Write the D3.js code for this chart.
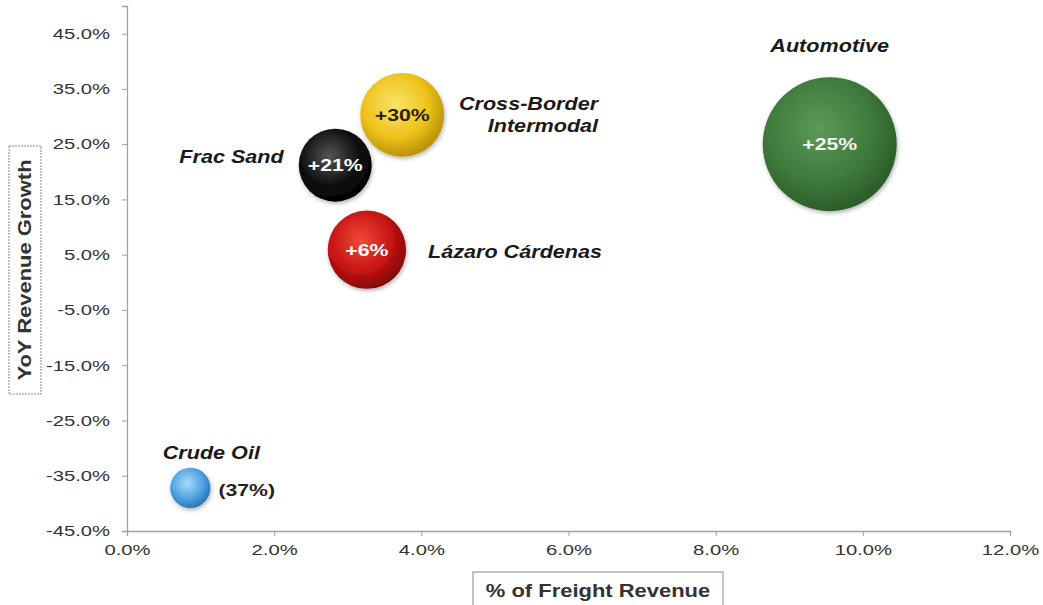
<!DOCTYPE html>
<html><head><meta charset="utf-8">
<script src="https://cdn.jsdelivr.net/npm/d3@7"></script>
<style>
html,body{margin:0;padding:0;background:#fff;}
svg{display:block;font-family:"Liberation Sans",Arial,sans-serif;}
</style></head>
<body>
<svg id="chart" width="1043" height="605"></svg>
<script>
const categories = ["Automotive","Cross-Border Intermodal","Frac Sand","Lázaro Cárdenas","Crude Oil"];
const shareOfFreight = [9.55, 3.74, 2.83, 3.26, 0.86];
const yoyGrowth = [25.0, 30.3, 21.2, 5.9, -37.2];
const bubbleLabels = ["+25%","+30%","+21%","+6%","(37%)"];
const xTicks = [0,2,4,6,8,10,12];
const yTicks = [-45,-35,-25,-15,-5,5,15,25,35,45];
const colors = [
  ["#5d9a58","#3f7a3c","#2a5a28"],
  ["#fbe46a","#edc21a","#b48d05"],
  ["#555555","#111111","#000000"],
  ["#ef4a3a","#c81414","#7a0505"],
  ["#a8daf8","#4fa3e2","#2a70b0"]
];
const textColors = ["#f4f4f4","#2a2200","#ffffff","#ffffff","#222"];

const svg = d3.select("#chart");
const x = d3.scaleLinear().domain([0,12]).range([127,1010]);
const y = d3.scaleLinear().domain([-45,50]).range([531,6]);
const r = d3.scaleSqrt().domain([0,9.55]).range([0,67]);

// stretched text helper
function stext(parent, px, py, str, o){
  const t = parent.append("text")
    .attr("transform", `translate(${px},${py})${o.rot?" rotate("+o.rot+")":""} scale(${o.sx||1.2},1)`)
    .attr("text-anchor", o.anchor||"start")
    .attr("font-size", o.size||18)
    .attr("font-weight", o.weight||"bold")
    .attr("font-style", o.style||"normal")
    .attr("fill", o.fill||"#1a1a1a");
  if (o.dy) t.attr("dy", o.dy);
  if (str !== null) t.text(str);
  return t;
}

// gradients
const defs = svg.append("defs");
colors.forEach((c,i)=>{
  const g = defs.append("radialGradient").attr("id","g"+i)
    .attr("cx","42%").attr("cy","38%").attr("r","65%");
  g.append("stop").attr("offset","0%").attr("stop-color",c[0]);
  g.append("stop").attr("offset","60%").attr("stop-color",c[1]);
  g.append("stop").attr("offset","100%").attr("stop-color",c[2]);
});
const sh = defs.append("filter").attr("id","shadow").attr("x","-30%").attr("y","-30%").attr("width","160%").attr("height","160%");
sh.append("feDropShadow").attr("dx",1).attr("dy",2).attr("stdDeviation",2).attr("flood-color","#000").attr("flood-opacity",0.3);

// axes
const TSX = 1.35;
const xAxis = d3.axisBottom(x).tickValues(xTicks).tickFormat(d=>d.toFixed(1)+"%").tickSize(5).tickPadding(6);
const yAxis = d3.axisLeft(y).tickValues(yTicks).tickFormat(d=>d.toFixed(1)+"%").tickSize(5).tickPadding(12);
const gx = svg.append("g").attr("transform","translate(0,531)").call(xAxis);
const gy = svg.append("g").attr("transform","translate(127,0)").call(yAxis);
[gx,gy].forEach(g=>{
  g.select(".domain").attr("stroke","#a0a0a0").attr("stroke-width",1.3);
  g.selectAll(".tick line").attr("stroke","#a0a0a0");
  g.selectAll(".tick text").attr("fill","#333").attr("font-size",15)
    .attr("font-family","Liberation Sans, Arial, sans-serif");
});
gy.selectAll(".tick text").each(function(){
  const t = d3.select(this);
  const px = +t.attr("x");
  t.attr("x", px/TSX).attr("transform", `scale(${TSX},1)`);
});
gx.selectAll(".tick text").attr("dy","0.9em").attr("transform", `scale(${TSX},1)`);

// axis titles
const yt = svg.append("g").attr("transform","translate(25,270)");
yt.append("rect").attr("x",-16).attr("y",-124).attr("width",32).attr("height",248)
  .attr("fill","#fff").attr("stroke","#8a8a8a").attr("stroke-dasharray","2,1");
stext(yt, 0, 0, "YoY Revenue Growth", {rot:-90, anchor:"middle", dy:"0.35em", size:18, sx:1.22, fill:"#333"});

const xt = svg.append("g").attr("transform","translate(598,591)");
xt.append("rect").attr("x",-125).attr("y",-19).attr("width",250).attr("height",40)
  .attr("fill","#fff").attr("stroke","#8a8a8a");
stext(xt, 0, 0, "% of Freight Revenue", {anchor:"middle", dy:"0.35em", size:18, sx:1.22, fill:"#333"});

// bubbles
const data = categories.map((c,i)=>({c, sx:shareOfFreight[i], gy:yoyGrowth[i], lab:bubbleLabels[i], i}));
const bubG = svg.append("g");
data.forEach(d=>{
  bubG.append("circle").attr("cx",x(d.sx)).attr("cy",y(d.gy)).attr("r",r(d.sx))
    .attr("fill","url(#g"+d.i+")").attr("filter","url(#shadow)");
});
data.filter(d=>d.i<4).forEach(d=>{
  stext(svg, x(d.sx), y(d.gy)+6, d.lab, {anchor:"middle", size:17, sx:1.25, fill:textColors[d.i]});
});
// crude oil value label outside
const co = data[4];
stext(svg, x(co.sx)+r(co.sx)+8, y(co.gy)+8, co.lab, {size:17, sx:1.25, fill:"#222"});

// category labels
const cat = {style:"italic", size:18, sx:1.2, fill:"#1a1a1a"};
const d0 = data[0], d1 = data[1], d2 = data[2], d3_ = data[3];
stext(svg, x(d0.sx), y(d0.gy)-r(d0.sx)-25, "Automotive", Object.assign({anchor:"middle"}, cat));
stext(svg, x(d1.sx)+r(d1.sx)+154, y(d1.gy)-5, "Cross-Border", Object.assign({anchor:"end"}, cat));
stext(svg, x(d1.sx)+r(d1.sx)+154, y(d1.gy)+17, "Intermodal", Object.assign({anchor:"end"}, cat));
stext(svg, x(d2.sx)-r(d2.sx)-15, y(d2.gy)-2, "Frac Sand", Object.assign({anchor:"end"}, cat));
stext(svg, x(d3_.sx)+r(d3_.sx)+22, y(d3_.gy)+8, "Lázaro Cárdenas", Object.assign({anchor:"start"}, cat));
stext(svg, x(co.sx)+21, y(co.gy)-r(co.sx)-9, "Crude Oil", Object.assign({anchor:"middle"}, cat));
</script>
</body></html>
